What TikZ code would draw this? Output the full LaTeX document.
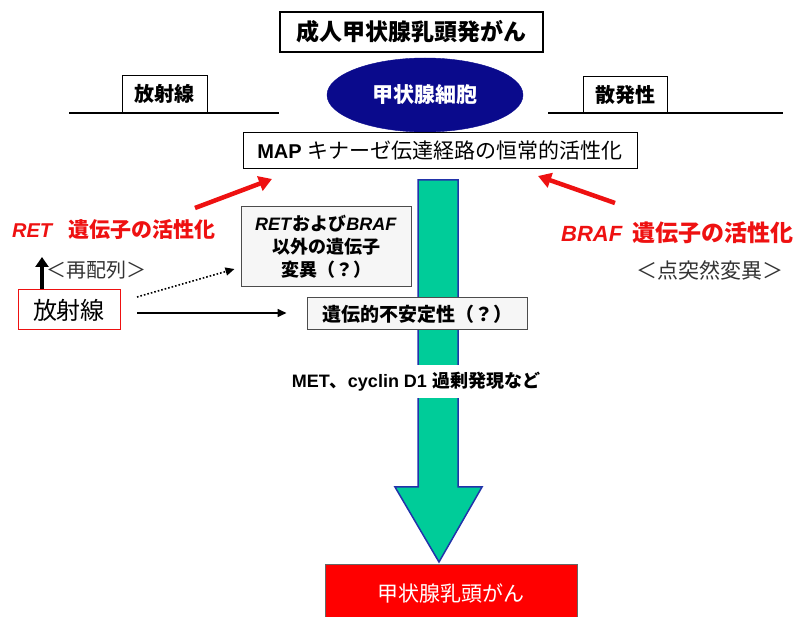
\documentclass[tikz,border=0pt]{standalone}
\usepackage{fontspec}
\setmainfont{Liberation Sans}
\newfontfamily\jp{Noto Sans CJK JP}
\usetikzlibrary{arrows.meta,shapes.geometric}
\definecolor{navyc}{HTML}{0A0A8C}
\definecolor{greenc}{HTML}{00CC99}
\definecolor{bluec}{HTML}{2233AA}
\definecolor{redc}{HTML}{EE1111}
\definecolor{boxred}{HTML}{FF0000}
\definecolor{grayfill}{HTML}{F6F6F6}
\definecolor{txtgray}{HTML}{333333}
\tikzset{
  plainbox/.style={draw=black, line width=1pt, fill=white, inner sep=0pt, align=center},
  graybox/.style={draw=black!70, line width=1pt, fill=grayfill, inner sep=0pt, align=center},
  redarrow/.style={draw=redc, line width=4.5pt, -{Triangle[length=13pt,width=15pt]}},
  blackarrow/.style={draw=black, line width=1.6pt, -{Triangle[length=9pt,width=8pt]}},
  lbl/.style={inner sep=0pt, align=center},
}
\begin{document}
\begin{tikzpicture}[x=1pt,y=-1pt]
\useasboundingbox (0,0) rectangle (804,617);
\clip (0,0) rectangle (804,617);

% title
\node[plainbox, line width=2pt, minimum width=263pt, minimum height=40pt] (title) at (411.5,32)
  {\jp\bfseries\fontsize{23}{26}\selectfont 成人甲状腺乳頭発がん};

% ellipse
\node[ellipse, draw=navyc, fill=navyc, minimum width=196pt, minimum height=74pt, inner sep=0pt] (cell) at (425,95)
  {\color{white}\jp\bfseries\fontsize{21}{24}\selectfont 甲状腺細胞};

% left / right lines and labels
\coordinate (ll1) at (69,113);
\coordinate (ll2) at (279,113);
\draw[line width=1.2pt] (ll1) -- (ll2);
\node[plainbox, minimum width=85pt, minimum height=37pt, anchor=south] (radlbl) at (164.5,113)
  {\jp\bfseries\fontsize{20}{24}\selectfont 放射線};
\coordinate (rl1) at (548,113);
\coordinate (rl2) at (783,113);
\draw[line width=1.2pt] (rl1) -- (rl2);
\node[plainbox, minimum width=84pt, minimum height=36pt, anchor=south] (spolbl) at (625,113)
  {\jp\bfseries\fontsize{20}{24}\selectfont 散発性};

% MAP box
\node[plainbox, minimum width=394pt, minimum height=36pt] (map) at (440,151)
  {\fontsize{20}{24}\selectfont\textbf{MAP}\hspace{6pt}{\jp\fontsize{21}{24}\selectfont キナーゼ伝達経路の恒常的活性化}};

% green arrow
\draw[draw=bluec, fill=greenc, line width=1.5pt, line join=miter]
  (418,180) -- (458,180) -- (458,487) -- (482,487) -- (439,562) -- (395,487) -- (418,487) -- cycle;

% RET / BRAF labels
\node[lbl, text=redc, anchor=west] (ret) at (12,230)
  {\fontsize{20}{24}\selectfont\textbf{\textit{RET}}\hspace{15pt}{\jp\bfseries\fontsize{21}{24}\selectfont 遺伝子の活性化}};
\node[lbl, text=redc, anchor=west] (braf) at (561,233)
  {\fontsize{22}{26}\selectfont\textbf{\textit{BRAF}}\hspace{10pt}{\jp\bfseries\fontsize{23}{26}\selectfont 遺伝子の活性化}};
\node[lbl, text=txtgray, anchor=west] (pm) at (636,270)
  {\jp\fontsize{21}{24}\selectfont ＜点突然変異＞};
\node[lbl, text=txtgray, anchor=west] (rearr) at (46,270)
  {\jp\fontsize{20}{24}\selectfont ＜再配列＞};

% red arrows
\coordinate (la1) at (195,208);
\coordinate (la2) at (272,179);
\coordinate (ra1) at (615,203);
\coordinate (ra2) at (538,176);
\draw[redarrow] (la1) -- (la2);
\draw[redarrow] (ra1) -- (ra2);

% radiation box
\node[draw=redc, line width=1pt, fill=white, minimum width=102pt, minimum height=40pt, inner sep=0pt] (rad) at (69,310)
  {\jp\fontsize{24}{28}\selectfont 放射線};
\coordinate (ua1) at (42,289);
\coordinate (ua2) at (42,257);
\draw[line width=4pt, -{Triangle[length=10pt,width=13pt]}] (ua1) -- (ua2);

% other gene box
\node[graybox, minimum width=170pt, minimum height=80pt, font=\fontsize{18}{23}\selectfont] (other) at (326,247)
  {\textbf{\textit{RET}}{\jp\bfseries および}\textbf{\textit{BRAF}}\\
   {\jp\bfseries 以外の遺伝子}\\
   {\jp\bfseries 変異（？）}};

% instability box
\node[graybox, minimum width=220pt, minimum height=32pt] (instab) at (417,314)
  {\jp\bfseries\fontsize{19}{22}\selectfont 遺伝的不安定性（？）};

% arrows from radiation
\coordinate (da1) at (137,297);
\coordinate (sa1) at (137,313);
\draw[blackarrow, dotted, line width=1.6pt] (da1) -- ([xshift=-6pt,yshift=6pt]other.west |- 0,275);
\draw[blackarrow] (sa1) -- ([xshift=-20pt]instab.west |- sa1);

% MET text
\node[fill=white, inner xsep=2pt, minimum height=33pt] (met) at (416,382)
  {\fontsize{18}{22}\selectfont\textbf{MET}{\jp\bfseries 、}\textbf{cyclin D1}\hspace{5pt}{\jp\bfseries 過剰発現など}};

% result box
\node[fill=boxred, draw=black!60, line width=1pt, minimum width=252pt, minimum height=56pt, inner sep=0pt] (result) at (451,593)
  {\color{white}\jp\fontsize{21}{24}\selectfont 甲状腺乳頭がん};
\end{tikzpicture}
\end{document}
